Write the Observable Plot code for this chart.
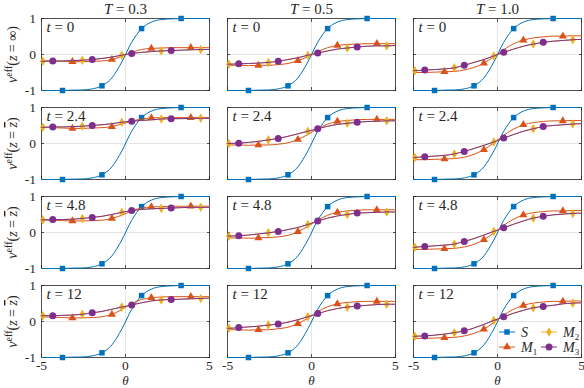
<!DOCTYPE html>
<html><head><meta charset="utf-8">
<script src="https://cdn.jsdelivr.net/npm/d3@7"></script>
<script src="https://cdn.jsdelivr.net/npm/@observablehq/plot@0.6"></script>
<style>
body{margin:0;background:#fff;}
#wrap{position:relative;width:584px;height:388px;}
</style></head><body><div id="wrap"></div>
<script>
// ---- data ----
const theta = [-5, -4.92, -4.33, -3.75, -3.16, -2.57, -1.98, -1.40, -0.81, -0.22, 0.37, 0.96, 1.54, 2.13, 2.72, 3.31, 3.89, 4.48, 5];
const Tvals = [0.3, 0.5, 1.0];
const tvals = [0, 2.4, 4.8, 12];
const seriesNames = ["S", "M1", "M2", "M3"];
const seriesColors = ["#0072BD", "#D95319", "#EDB120", "#7E2F8E"];
const seriesSymbols = [d3.symbolSquare, d3.symbolTriangle, d3.symbolDiamond, d3.symbolCircle];
const seriesR = [3.1, 3.0, 2.9, 3.5];
const markerPhase = [2, 3, 0, 1];
const xTicks = [-5, 0, 5];
const yTicks = [-1, 0, 1];

const S = [-1.00,-1.00,-1.00,-1.00,-0.99,-0.985,-0.955,-0.87,-0.65,-0.21,0.34,0.72,0.90,0.97,0.99,1.00,1.00,1.00,1.00];

const M1_T03 = [
  [-0.17,-0.17,-0.18,-0.19,-0.20,-0.20,-0.19,-0.18,-0.14,-0.05,0.06,0.14,0.17,0.18,0.19,0.19,0.19,0.19,0.19],
  [0.45,0.45,0.44,0.43,0.42,0.42,0.43,0.44,0.47,0.54,0.62,0.68,0.71,0.72,0.72,0.72,0.72,0.72,0.72],
  [0.35,0.35,0.34,0.33,0.32,0.32,0.33,0.34,0.39,0.48,0.60,0.68,0.71,0.72,0.73,0.73,0.73,0.73,0.73],
  [0.13,0.13,0.12,0.11,0.10,0.10,0.11,0.13,0.20,0.33,0.50,0.61,0.66,0.68,0.69,0.69,0.69,0.69,0.69]
];
const M1_T05 = [
  [-0.30,-0.30,-0.30,-0.31,-0.30,-0.30,-0.28,-0.25,-0.17,-0.06,0.08,0.19,0.25,0.28,0.29,0.30,0.30,0.30,0.30],
  [-0.04,-0.04,-0.04,-0.05,-0.04,-0.04,-0.02,0.02,0.11,0.25,0.41,0.54,0.61,0.64,0.66,0.67,0.67,0.67,0.67],
  [-0.15,-0.15,-0.15,-0.16,-0.15,-0.14,-0.12,-0.08,0.02,0.17,0.34,0.48,0.56,0.60,0.62,0.63,0.63,0.63,0.63],
  [-0.23,-0.23,-0.23,-0.24,-0.23,-0.23,-0.20,-0.16,-0.06,0.09,0.27,0.41,0.49,0.53,0.55,0.56,0.56,0.56,0.56]
];
const M1_T10 = [
  [-0.50,-0.50,-0.50,-0.49,-0.48,-0.47,-0.43,-0.36,-0.24,-0.06,0.13,0.30,0.40,0.46,0.49,0.51,0.51,0.52,0.52],
  [-0.45,-0.45,-0.45,-0.44,-0.43,-0.42,-0.38,-0.30,-0.17,0.02,0.23,0.40,0.52,0.58,0.61,0.63,0.63,0.64,0.64],
  [-0.47,-0.47,-0.47,-0.46,-0.45,-0.44,-0.40,-0.33,-0.20,-0.01,0.20,0.37,0.49,0.55,0.58,0.60,0.60,0.61,0.61],
  [-0.47,-0.47,-0.47,-0.46,-0.45,-0.44,-0.40,-0.33,-0.21,-0.03,0.18,0.34,0.45,0.51,0.54,0.56,0.56,0.57,0.57]
];
const M2_T03 = [
  [-0.19,-0.19,-0.18,-0.18,-0.17,-0.16,-0.14,-0.11,-0.07,-0.02,0.03,0.06,0.08,0.10,0.11,0.12,0.13,0.14,0.14],
  [0.45,0.45,0.46,0.46,0.47,0.48,0.50,0.52,0.55,0.59,0.62,0.64,0.66,0.68,0.69,0.69,0.70,0.70,0.70],
  [0.35,0.35,0.36,0.36,0.37,0.39,0.42,0.45,0.50,0.56,0.61,0.64,0.66,0.67,0.68,0.69,0.70,0.70,0.70],
  [0.16,0.16,0.16,0.17,0.18,0.20,0.24,0.28,0.34,0.40,0.46,0.52,0.57,0.60,0.61,0.62,0.63,0.64,0.65]
];
const M2_T05 = [
  [-0.27,-0.27,-0.26,-0.25,-0.24,-0.22,-0.19,-0.14,-0.09,-0.02,0.04,0.10,0.15,0.18,0.21,0.23,0.24,0.24,0.25],
  [0.00,0.00,0.01,0.03,0.06,0.10,0.14,0.20,0.27,0.34,0.41,0.48,0.53,0.56,0.59,0.61,0.62,0.63,0.63],
  [-0.10,-0.10,-0.09,-0.07,-0.04,-0.01,0.03,0.08,0.14,0.22,0.32,0.40,0.46,0.50,0.54,0.55,0.56,0.57,0.57],
  [-0.19,-0.19,-0.17,-0.15,-0.13,-0.10,-0.07,-0.02,0.05,0.13,0.22,0.30,0.36,0.40,0.43,0.45,0.47,0.48,0.48]
];
const M2_T10 = [
  [-0.45,-0.45,-0.43,-0.42,-0.40,-0.37,-0.30,-0.22,-0.14,-0.04,0.06,0.15,0.23,0.29,0.34,0.37,0.39,0.41,0.42],
  [-0.40,-0.39,-0.37,-0.35,-0.33,-0.29,-0.22,-0.14,-0.05,0.04,0.15,0.25,0.34,0.41,0.47,0.50,0.52,0.54,0.55],
  [-0.42,-0.41,-0.39,-0.37,-0.35,-0.32,-0.25,-0.17,-0.07,0.03,0.13,0.23,0.32,0.40,0.45,0.49,0.51,0.53,0.54],
  [-0.42,-0.41,-0.40,-0.38,-0.35,-0.31,-0.26,-0.18,-0.08,0.03,0.13,0.23,0.31,0.38,0.42,0.45,0.49,0.51,0.52]
];
const M3_T03 = [
  [-0.19,-0.19,-0.18,-0.18,-0.17,-0.16,-0.14,-0.11,-0.07,-0.02,0.03,0.06,0.08,0.10,0.11,0.12,0.13,0.14,0.14],
  [0.45,0.45,0.46,0.46,0.47,0.48,0.50,0.52,0.55,0.59,0.62,0.64,0.66,0.68,0.69,0.69,0.70,0.70,0.70],
  [0.35,0.35,0.36,0.36,0.37,0.39,0.42,0.45,0.50,0.56,0.61,0.64,0.66,0.67,0.68,0.69,0.70,0.70,0.70],
  [0.16,0.16,0.16,0.17,0.18,0.20,0.24,0.28,0.34,0.40,0.46,0.52,0.57,0.60,0.61,0.62,0.63,0.64,0.65]
];
const M3_T05 = [
  [-0.27,-0.27,-0.26,-0.25,-0.24,-0.22,-0.19,-0.14,-0.09,-0.02,0.04,0.10,0.15,0.18,0.21,0.23,0.24,0.24,0.25],
  [0.00,0.00,0.01,0.03,0.06,0.10,0.14,0.20,0.27,0.34,0.41,0.48,0.53,0.56,0.59,0.61,0.62,0.63,0.63],
  [-0.10,-0.10,-0.09,-0.07,-0.04,-0.01,0.03,0.08,0.14,0.22,0.32,0.40,0.46,0.50,0.54,0.55,0.56,0.57,0.57],
  [-0.19,-0.19,-0.17,-0.15,-0.13,-0.10,-0.07,-0.02,0.05,0.13,0.22,0.30,0.36,0.40,0.43,0.45,0.47,0.48,0.48]
];
const M3_T10 = [
  [-0.45,-0.45,-0.43,-0.42,-0.40,-0.37,-0.30,-0.22,-0.14,-0.04,0.06,0.15,0.23,0.29,0.34,0.37,0.39,0.41,0.42],
  [-0.40,-0.39,-0.37,-0.35,-0.33,-0.29,-0.22,-0.14,-0.05,0.04,0.15,0.25,0.34,0.41,0.47,0.50,0.52,0.54,0.55],
  [-0.42,-0.41,-0.39,-0.37,-0.35,-0.32,-0.25,-0.17,-0.07,0.03,0.13,0.23,0.32,0.40,0.45,0.49,0.51,0.53,0.54],
  [-0.42,-0.41,-0.40,-0.38,-0.35,-0.31,-0.26,-0.18,-0.08,0.03,0.13,0.23,0.31,0.38,0.42,0.45,0.49,0.51,0.52]
];

// ---- build table ----
const byCol = {M1: [M1_T03, M1_T05, M1_T10], M2: [M2_T03, M2_T05, M2_T10], M3: [M3_T03, M3_T05, M3_T10]};
const rows = [];
Tvals.forEach((T, ci) => tvals.forEach((t, ri) => seriesNames.forEach((s) => {
  const vals = s === "S" ? S : byCol[s][ci][ri];
  theta.forEach((th, i) => rows.push({T, t, series: s, theta: th, v: vals[i], i}));
})));
const cells = [];
Tvals.forEach(T => tvals.forEach(t => cells.push({T, t})));

const ink = "#262626";
const marks = [
  Plot.ruleX([0], {stroke: "#dedede", strokeWidth: 0.8}),
  Plot.ruleY([0], {stroke: "#dedede", strokeWidth: 0.8}),
  Plot.frame({stroke: ink, strokeWidth: 0.8}),
  Plot.axisX(xTicks, {anchor: "bottom", tickSize: -3, fill: "none", facetAnchor: null, stroke: ink, strokeWidth: 0.8}),
  Plot.axisX(xTicks, {anchor: "top", tickSize: -3, fill: "none", facetAnchor: null, stroke: ink, strokeWidth: 0.8}),
  Plot.axisY(yTicks, {anchor: "left", tickSize: -3, fill: "none", facetAnchor: null, stroke: ink, strokeWidth: 0.8}),
  Plot.axisY(yTicks, {anchor: "right", tickSize: -3, fill: "none", facetAnchor: null, stroke: ink, strokeWidth: 0.8}),
  Plot.axisX(xTicks, {anchor: "bottom", tickSize: 0, tickPadding: 3, tickFormat: d => String(d), label: null, fontSize: 13.5, fill: ink}),
  Plot.axisY(yTicks, {anchor: "left", tickSize: 0, tickPadding: 5.5, tickFormat: d => String(d), label: null, fontSize: 13.5, fill: ink})
];
seriesNames.forEach((s, si) => {
  const d = rows.filter(r => r.series === s);
  marks.push(Plot.line(d, {x: "theta", y: "v", fx: "T", fy: "t", stroke: seriesColors[si], strokeWidth: 1, curve: "monotone-x"}));
  marks.push(Plot.dot(d.filter(r => r.i >= 1 && r.i <= 17 && (r.i - 1) % 4 === markerPhase[si]),
    {x: "theta", y: "v", fx: "T", fy: "t", symbol: seriesSymbols[si], r: seriesR[si], fill: seriesColors[si], stroke: "none"}));
});
marks.push(
  Plot.text(Tvals.map(T => ({T, t: tvals[0]})), {fx: "T", fy: "t", frameAnchor: "top", dy: -5, lineAnchor: "bottom",
    text: d => "T = " + d.T.toFixed(1), fontSize: 15, fill: ink}),
  Plot.text(cells, {fx: "T", fy: "t", frameAnchor: "top-left", dx: 5, dy: 3, lineAnchor: "top", textAnchor: "start",
    text: d => "t = " + d.t, fontSize: 15, fill: ink}),
  Plot.text(tvals.map(t => ({T: Tvals[0], t})), {fx: "T", fy: "t", frameAnchor: "left", dx: -29, rotate: -90,
    textAnchor: "middle", lineAnchor: "middle", text: d => d.t === 0 ? "@inf" : "@bar", fontSize: 14, fill: ink}),
  Plot.text(Tvals.map(T => ({T, t: tvals[tvals.length - 1]})), {fx: "T", fy: "t", frameAnchor: "bottom", dy: 18, lineAnchor: "top",
    text: () => "θ", fontSize: 13, fontStyle: "italic", fill: ink})
);

const svg = Plot.plot({
  width: 584, height: 388,
  marginLeft: 41, marginRight: 3, marginTop: 18, marginBottom: 31,
  style: {fontFamily: "'Liberation Serif', 'DejaVu Serif', serif", fontSize: "13px", color: ink, background: "#fff"},
  x: {domain: [-5, 5]},
  y: {domain: [-1, 1]},
  fx: {domain: Tvals, paddingInner: 0.097, paddingOuter: 0, round: false, axis: null},
  fy: {domain: tvals, paddingInner: 0.191, paddingOuter: 0, round: false, axis: null},
  marks
});

// ---- rich text (italics, super/subscripts) ----
function rich(el, parts) {
  const s = d3.select(el); s.text(null);
  for (const p of parts) {
    const ts = s.append("tspan").text(p.t);
    if (p.it) ts.attr("font-style", "italic");
    if (p.fs) ts.attr("font-size", p.fs);
    if (p.dy) ts.attr("dy", p.dy);
    if (p.ov) ts.style("text-decoration", "overline");
  }
}
d3.select(svg).selectAll("text").each(function() {
  const txt = this.textContent;
  if (/^T = /.test(txt)) rich(this, [{t: "T", it: true}, {t: txt.slice(1)}]);
  else if (/^t = /.test(txt)) rich(this, [{t: "t", it: true}, {t: txt.slice(1)}]);
  else if (txt === "@inf" || txt === "@bar") {
    rich(this, [{t: "v", it: true}, {t: "eff", fs: 10, dy: -5}, {t: "(", dy: 5}, {t: "z", it: true}, {t: " = "},
      txt === "@inf" ? {t: "∞"} : {t: "z", it: true, ov: true}, {t: ")"}]);
  }
});

const wrap = document.getElementById("wrap");
wrap.appendChild(svg);

// ---- legend ----
const leg = d3.create("svg").attr("width", 584).attr("height", 388)
  .style("position", "absolute").style("left", "0px").style("top", "0px").style("pointer-events", "none")
  .style("font-family", "'Liberation Serif', 'DejaVu Serif', serif").style("font-size", "14px");
const legendItems = [{si: 0, col: 0, row: 0}, {si: 2, col: 1, row: 0}, {si: 1, col: 0, row: 1}, {si: 3, col: 1, row: 1}];
const legX = [499, 541], legY = [332, 347];
for (const it of legendItems) {
  const x0 = legX[it.col], y0 = legY[it.row], c = seriesColors[it.si];
  leg.append("line").attr("x1", x0).attr("x2", x0 + 16).attr("y1", y0).attr("y2", y0).attr("stroke", c).attr("stroke-width", 1);
  leg.append("path").attr("transform", `translate(${x0 + 8},${y0})`)
    .attr("d", d3.symbol(seriesSymbols[it.si], Math.PI * seriesR[it.si] ** 2)()).attr("fill", c);
  const tx = leg.append("text").attr("x", x0 + 22).attr("y", y0 + 4.5).attr("fill", ink);
  const name = seriesNames[it.si];
  tx.append("tspan").attr("font-style", "italic").text(name[0]);
  if (name.length > 1) tx.append("tspan").attr("font-size", 9).attr("dy", 3).text(name.slice(1));
}
wrap.appendChild(leg.node());
</script></body></html>
